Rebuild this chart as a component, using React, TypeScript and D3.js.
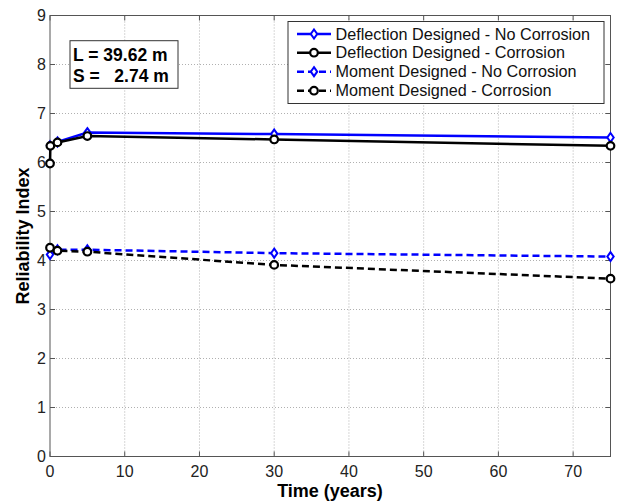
import React from "react";
import * as d3 from "d3";

const xTicks = [0, 10, 20, 30, 40, 50, 60, 70];
const yTicks = [0, 1, 2, 3, 4, 5, 6, 7, 8, 9];

const defNoCorrT = [0, 1, 5, 30, 75];
const defNoCorrV = [6.34, 6.42, 6.61, 6.58, 6.51];
const defCorrT = [0, 0.05, 1, 5, 30, 75];
const defCorrV = [5.98, 6.34, 6.41, 6.54, 6.47, 6.34];
const momNoCorrT = [0, 1, 5, 30, 75];
const momNoCorrV = [4.12, 4.22, 4.22, 4.15, 4.08];
const momCorrT = [0, 1, 5, 30, 75];
const momCorrV = [4.26, 4.2, 4.18, 3.91, 3.63];

const seriesNames = [
  "Deflection Designed - No Corrosion",
  "Deflection Designed - Corrosion",
  "Moment Designed - No Corrosion",
  "Moment Designed - Corrosion",
];

const annotation = ["L = 39.62 m", "S =   2.74 m"];

const W = 627, H = 502;
const m = { left: 50, right: 610.5, top: 15.5, bottom: 456.5 };

export default function App() {
  const x = d3.scaleLinear().domain([0, 75]).range([m.left, m.right]);
  const y = d3.scaleLinear().domain([0, 9]).range([m.bottom, m.top]);
  const line = d3.line<[number, number]>().x(d => x(d[0])).y(d => y(d[1]));

  const series = [
    { t: defNoCorrT, v: defNoCorrV, color: "#0000ff", dash: undefined, marker: "diamond" },
    { t: defCorrT, v: defCorrV, color: "#000000", dash: undefined, marker: "circle" },
    { t: momNoCorrT, v: momNoCorrV, color: "#0000ff", dash: "7,4", marker: "diamond" },
    { t: momCorrT, v: momCorrV, color: "#000000", dash: "7,4", marker: "circle" },
  ];

  const marker = (kind: string, cx: number, cy: number, color: string, key: any) =>
    kind === "diamond" ? (
      <path key={key} d={`M${cx},${cy - 4.5}L${cx + 3.2},${cy}L${cx},${cy + 4.5}L${cx - 3.2},${cy}Z`}
        fill="#fff" stroke={color} strokeWidth={2} />
    ) : (
      <circle key={key} cx={cx} cy={cy} r={3.8} fill="#fff" stroke={color} strokeWidth={2.2} />
    );

  const font = "Liberation Sans, Arial, sans-serif";
  const legX = 288, legY = 21.5, legW = 316, legH = 82;
  const legRows = [34, 52.7, 71.7, 90.7];

  return (
    <svg width={W} height={H} style={{ position: "absolute", left: 0, top: 0 }} fontFamily={font}>
      <rect x={0} y={0} width={W} height={H} fill="#fff" />
      {/* grid */}
      {xTicks.filter(t => t > 0).map(t => (
        <line key={"gx" + t} x1={x(t)} x2={x(t)} y1={m.top} y2={m.bottom} stroke="#b0b0b0" strokeWidth={1} strokeDasharray="1,2" />
      ))}
      {yTicks.filter(t => t > 0 && t < 9).map(t => (
        <line key={"gy" + t} x1={m.left} x2={m.right} y1={y(t)} y2={y(t)} stroke="#b0b0b0" strokeWidth={1} strokeDasharray="1,2" />
      ))}
      {/* box */}
      <rect x={m.left} y={m.top} width={m.right - m.left} height={m.bottom - m.top} fill="none" stroke="#555" strokeWidth={1} />
      {/* ticks */}
      {xTicks.map(t => (
        <g key={"tx" + t}>
          <line x1={x(t)} x2={x(t)} y1={m.bottom} y2={m.bottom - 5} stroke="#555" />
          <line x1={x(t)} x2={x(t)} y1={m.top} y2={m.top + 5} stroke="#555" />
          <text x={x(t)} y={477} fontSize={16} textAnchor="middle" fill="#222">{t}</text>
        </g>
      ))}
      {yTicks.map(t => (
        <g key={"ty" + t}>
          <line x1={m.left} x2={m.left + 5} y1={y(t)} y2={y(t)} stroke="#555" />
          <line x1={m.right} x2={m.right - 5} y1={y(t)} y2={y(t)} stroke="#555" />
          <text x={46} y={y(t) + 5.5} fontSize={16} textAnchor="end" fill="#222">{t}</text>
        </g>
      ))}
      {/* series */}
      {series.map((s, i) => {
        const pts = s.t.map((t, j) => [t, s.v[j]] as [number, number]);
        return (
          <g key={"s" + i}>
            <path d={line(pts) || ""} fill="none" stroke={s.color} strokeWidth={2.5} strokeDasharray={s.dash} />
            {pts.map((p, j) => marker(s.marker, x(p[0]), y(p[1]), s.color, j))}
          </g>
        );
      })}
      {/* axis labels */}
      <text x={330} y={497} fontSize={18} fontWeight="bold" textAnchor="middle" fill="#000">Time (years)</text>
      <text transform={`translate(29,${(m.top + m.bottom) / 2}) rotate(-90)`} fontSize={18} fontWeight="bold" textAnchor="middle" fill="#000">Reliability Index</text>
      {/* annotation */}
      <rect x={70} y={40.7} width={108} height={47.6} fill="#fff" stroke="#333" strokeWidth={1} />
      <text x={73} y={60.5} fontSize={17.5} fontWeight="bold" fill="#000" style={{ whiteSpace: "pre" }}>{annotation[0]}</text>
      <text x={73} y={82} fontSize={17.5} fontWeight="bold" fill="#000" style={{ whiteSpace: "pre" }} xmlSpace="preserve">{annotation[1]}</text>
      {/* legend */}
      <rect x={legX} y={legY} width={legW} height={legH} fill="#fff" stroke="#333" strokeWidth={1} />
      {series.map((s, i) => (
        <g key={"l" + i}>
          <line x1={297} x2={331} y1={legRows[i]} y2={legRows[i]} stroke={s.color} strokeWidth={2.5} strokeDasharray={s.dash} />
          {marker(s.marker, 314, legRows[i], s.color, "m")}
          <text x={335.5} y={legRows[i] + 5.5} fontSize={16.2} fill="#111">{seriesNames[i]}</text>
        </g>
      ))}
    </svg>
  );
}
